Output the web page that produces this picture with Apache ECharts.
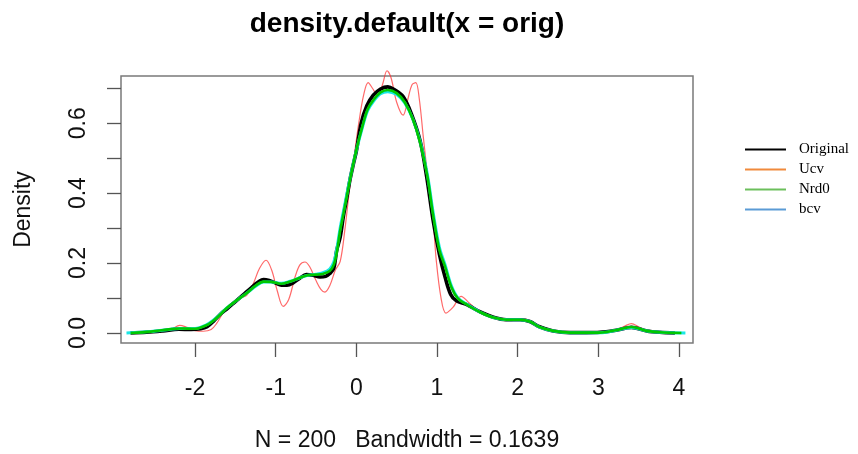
<!DOCTYPE html>
<html>
<head>
<meta charset="utf-8">
<script src="https://cdn.jsdelivr.net/npm/echarts@6/dist/echarts.min.js"></script>
<style>html,body{margin:0;padding:0;background:#fff}#c{width:858px;height:454px}</style>
</head>
<body>
<div id="c"></div>
<script>
// ---- data ----
var origX = [-2.80,-2.60,-2.40,-2.20,-2.05,-1.93,-1.85,-1.77,-1.68,-1.60,-1.50,-1.40,-1.30,-1.22,-1.15,-1.08,-1.00,-0.93,-0.86,-0.78,-0.70,-0.62,-0.54,-0.45,-0.38,-0.33,-0.28,-0.245,-0.20,-0.16,-0.12,-0.08,-0.04,0.00,0.06,0.13,0.21,0.30,0.39,0.47,0.58,0.68,0.79,0.87,0.95,1.03,1.10,1.17,1.24,1.37,1.53,1.70,1.86,2.03,2.15,2.27,2.44,2.65,2.85,3.02,3.22,3.41,3.60,3.76,3.95];
var origY = [0.000,0.002,0.006,0.011,0.010,0.012,0.018,0.034,0.055,0.070,0.090,0.110,0.130,0.145,0.153,0.150,0.143,0.137,0.137,0.144,0.157,0.167,0.165,0.160,0.162,0.170,0.185,0.235,0.275,0.335,0.385,0.437,0.480,0.520,0.600,0.650,0.680,0.698,0.704,0.696,0.676,0.628,0.550,0.450,0.325,0.225,0.160,0.110,0.092,0.081,0.061,0.045,0.038,0.038,0.033,0.018,0.006,0.001,0.001,0.002,0.008,0.016,0.006,0.002,0.000];

var ucvX = [-2.80,-2.50,-2.30,-2.19,-2.10,-2.00,-1.90,-1.80,-1.73,-1.65,-1.58,-1.50,-1.44,-1.36,-1.28,-1.20,-1.12,-1.05,-0.98,-0.907,-0.84,-0.76,-0.70,-0.638,-0.58,-0.50,-0.44,-0.39,-0.33,-0.26,-0.20,-0.143,-0.08,-0.03,0.03,0.09,0.146,0.20,0.27,0.33,0.38,0.43,0.50,0.58,0.64,0.69,0.737,0.78,0.83,0.89,0.95,0.99,1.05,1.11,1.20,1.30,1.385,1.50,1.60,1.70,1.80,1.90,2.00,2.10,2.20,2.30,2.45,2.60,2.80,3.00,3.20,3.33,3.41,3.50,3.62,3.80,3.95];
var ucvY = [0.000,0.003,0.010,0.022,0.016,0.007,0.005,0.010,0.028,0.058,0.075,0.086,0.100,0.108,0.140,0.185,0.208,0.180,0.120,0.076,0.095,0.160,0.195,0.203,0.190,0.150,0.125,0.117,0.135,0.180,0.205,0.294,0.420,0.500,0.600,0.680,0.716,0.700,0.676,0.715,0.750,0.730,0.660,0.623,0.670,0.710,0.716,0.670,0.561,0.437,0.330,0.210,0.100,0.057,0.074,0.105,0.089,0.065,0.052,0.043,0.037,0.035,0.038,0.040,0.030,0.014,0.004,0.001,0.001,0.001,0.006,0.020,0.027,0.018,0.005,0.001,0.000];

var nrd0X = [-2.80,-2.55,-2.30,-2.19,-2.00,-1.86,-1.77,-1.70,-1.61,-1.48,-1.36,-1.24,-1.15,-1.05,-0.93,-0.82,-0.70,-0.60,-0.50,-0.42,-0.33,-0.28,-0.245,-0.20,-0.16,-0.08,0.00,0.08,0.14,0.21,0.30,0.39,0.50,0.60,0.70,0.79,0.88,0.95,1.03,1.10,1.18,1.26,1.37,1.53,1.70,1.86,2.03,2.15,2.27,2.44,2.65,2.85,3.02,3.22,3.41,3.60,3.76,4.03];
var nrd0Y = [0.000,0.004,0.011,0.013,0.012,0.022,0.036,0.050,0.071,0.094,0.114,0.137,0.147,0.146,0.141,0.147,0.158,0.165,0.167,0.169,0.177,0.195,0.227,0.294,0.340,0.437,0.523,0.595,0.640,0.666,0.688,0.695,0.686,0.660,0.612,0.545,0.450,0.340,0.237,0.190,0.130,0.098,0.081,0.060,0.044,0.038,0.038,0.033,0.017,0.006,0.001,0.001,0.001,0.008,0.017,0.006,0.002,0.000];

var bcvX = [-2.85,-2.55,-2.30,-2.19,-2.00,-1.86,-1.77,-1.70,-1.61,-1.48,-1.36,-1.24,-1.15,-1.05,-0.93,-0.82,-0.70,-0.60,-0.50,-0.42,-0.33,-0.28,-0.245,-0.20,-0.16,-0.08,0.00,0.08,0.14,0.21,0.30,0.39,0.50,0.60,0.70,0.79,0.88,0.95,1.03,1.10,1.18,1.26,1.37,1.53,1.70,1.86,2.03,2.15,2.27,2.44,2.65,2.85,3.02,3.22,3.41,3.60,3.76,4.08];
var bcvY = [0.000,0.004,0.011,0.013,0.013,0.023,0.037,0.051,0.071,0.094,0.114,0.135,0.146,0.146,0.142,0.148,0.158,0.165,0.168,0.172,0.183,0.203,0.237,0.302,0.348,0.440,0.522,0.592,0.636,0.662,0.684,0.690,0.682,0.658,0.612,0.548,0.455,0.348,0.245,0.195,0.134,0.100,0.082,0.060,0.044,0.038,0.038,0.033,0.017,0.006,0.001,0.001,0.001,0.008,0.016,0.006,0.002,0.000];

var xTicks = [-2, -1, 0, 1, 2, 3, 4];
var yTicks = [0, 0.1, 0.2, 0.3, 0.4, 0.5, 0.6, 0.7];
var yLabels = [0, 0.2, 0.4, 0.6];
var legendNames = ['Original', 'Ucv', 'Nrd0', 'bcv'];
var legendColors = ['#000000', '#f08a3c', '#6cbf5c', '#5b9bd5'];
var titleText = 'density.default(x = orig)';
var subText = 'N = 200   Bandwidth = 0.1639';
var yName = 'Density';

function zip(xs, ys) {
  var out = [];
  for (var i = 0; i < Math.min(xs.length, ys.length); i++) out.push([xs[i], ys[i]]);
  return out;
}

var chart = echarts.init(document.getElementById('c'), null, {renderer: 'canvas'});
var font = '"Liberation Sans", Arial, Helvetica, sans-serif';

var series = [
  {name: 'ucvCurve', type: 'line', data: zip(ucvX, ucvY), showSymbol: false, symbol: 'none', smooth: 0.35, clip: false,
   lineStyle: {color: '#ff2a2a', width: 1.2, opacity: 0.7}, z: 2},
  {name: 'origCurve', type: 'line', data: zip(origX, origY), showSymbol: false, symbol: 'none', smooth: 0.35,
   lineStyle: {color: '#000000', width: 3.6}, z: 3},
  {name: 'bcvCurve', type: 'line', data: zip(bcvX, bcvY), showSymbol: false, symbol: 'none', smooth: 0.35,
   lineStyle: {color: '#19e6e6', width: 3.0}, z: 4},
  {name: 'nrd0Curve', type: 'line', data: zip(nrd0X, nrd0Y), showSymbol: false, symbol: 'none', smooth: 0.35,
   lineStyle: {color: '#00c800', width: 2.6}, z: 5}
];
legendNames.forEach(function (n, i) {
  series.push({name: n, type: 'line', data: [], color: legendColors[i],
    itemStyle: {color: legendColors[i]}, lineStyle: {color: legendColors[i]}});
});

chart.setOption({
  animation: false,
  backgroundColor: '#ffffff',
  grid: {left: 121, top: 76, right: 165, bottom: 111, show: true, borderColor: '#7a7a7a', borderWidth: 1.5, backgroundColor: 'transparent'},
  legend: {
    data: legendNames, orient: 'vertical', left: 745, top: 142, padding: 0,
    icon: 'rect', itemWidth: 41, itemHeight: 2, itemGap: 5,
    textStyle: {fontFamily: '"Liberation Serif", "Times New Roman", serif', fontSize: 15, color: '#000', padding: [0, 0, 0, 8]},
    selectedMode: false
  },
  xAxis: {
    type: 'value', min: -2.918, max: 4.174,
    axisLine: {show: false, onZero: false},
    splitLine: {show: false},
    axisTick: {show: true, customValues: xTicks, length: 14, lineStyle: {color: '#555', width: 1.3}},
    axisLabel: {customValues: xTicks, margin: 34, fontSize: 23, fontFamily: font, color: '#111',
      formatter: function (v) { return String(v); }}
  },
  yAxis: {
    type: 'value', min: -0.0286, max: 0.735,
    name: yName, nameLocation: 'middle', nameGap: 86, nameRotate: 90,
    nameTextStyle: {fontSize: 23, fontFamily: font, color: '#111'},
    axisLine: {show: false, onZero: false},
    splitLine: {show: false},
    axisTick: {show: true, customValues: yTicks, length: 14, lineStyle: {color: '#555', width: 1.3}},
    axisLabel: {customValues: yLabels, rotate: 90, margin: 31, fontSize: 23, fontFamily: font, color: '#111',
      formatter: function (v) { return v.toFixed(1); }}
  },
  graphic: [
    {type: 'text', x: 407, y: 24, style: {text: titleText, align: 'center', verticalAlign: 'middle',
      fontSize: 28, fontWeight: 'bold', fontFamily: font, fill: '#000'}},
    {type: 'text', x: 407, y: 441, style: {text: subText, align: 'center', verticalAlign: 'middle',
      fontSize: 23, fontFamily: font, fill: '#111'}}
  ],
  series: series
});
</script>
</body>
</html>
